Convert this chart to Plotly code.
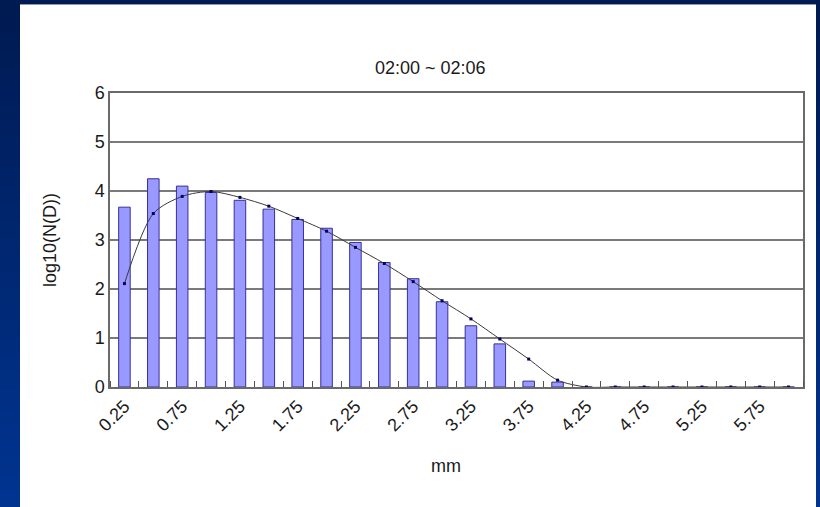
import plotly.graph_objects as go

# Drop-size bins (mm) and the measured / fitted log10 number density
diameters = [0.25, 0.50, 0.75, 1.00, 1.25, 1.50, 1.75, 2.00, 2.25, 2.50, 2.75, 3.00,
             3.25, 3.50, 3.75, 4.00, 4.25, 4.50, 4.75, 5.00, 5.25, 5.50, 5.75, 6.00]
measured = [3.67, 4.25, 4.10, 3.97, 3.81, 3.63, 3.42, 3.24, 2.95, 2.54, 2.21, 1.74,
            1.25, 0.88, 0.12, 0.10, 0, 0, 0, 0, 0, 0, 0, 0]
fitted = [2.11, 3.54, 3.89, 3.99, 3.87, 3.69, 3.44, 3.18, 2.85, 2.52, 2.15, 1.76,
          1.39, 0.98, 0.57, 0.14, 0, 0, 0, 0, 0, 0, 0, 0]
tick_labels = ["0.25", "0.75", "1.25", "1.75", "2.25", "2.75", "3.25", "3.75",
               "4.25", "4.75", "5.25", "5.75"]
tick_positions = [0.25, 0.75, 1.25, 1.75, 2.25, 2.75, 3.25, 3.75, 4.25, 4.75, 5.25, 5.75]

W, H = 820, 507
FONT = "Liberation Sans Narrow, Arial Narrow, Liberation Sans, Arial, sans-serif"
TXT = "#1a1a1a"

fig = go.Figure()

fig.add_trace(go.Bar(
    x=diameters, y=measured, width=0.10,
    marker=dict(color="#9999FF", line=dict(color="#333399", width=1)),
    showlegend=False, hoverinfo="x+y",
))
fig.add_trace(go.Scatter(
    x=diameters, y=fitted, mode="lines+markers",
    line=dict(color="#3a3a3a", width=1, shape="spline", smoothing=0.8),
    marker=dict(color="#000060", size=3, symbol="square"),
    showlegend=False, hoverinfo="x+y",
))

# plot-area margins; helpers turn pixel positions into paper coordinates
ml, mr, mt, mb = 110, 17, 93, 120
pw, ph = W - ml - mr, H - mt - mb
def px_x(x):
    return (x - ml) / pw
def px_y(y):
    return (H - mb - y) / ph

# slide background: vertical navy gradient, then the white chart area
shapes = []
top_c = (0x00, 0x1A, 0x52)
bot_c = (0x00, 0x34, 0x90)
n = 30
for i in range(n):
    t = i / (n - 1)
    c = tuple(int(round(top_c[k] + (bot_c[k] - top_c[k]) * t)) for k in range(3))
    shapes.append(dict(type="rect", xref="paper", yref="paper",
                       x0=px_x(-5), x1=px_x(W + 5),
                       y0=px_y(H * (i + 1) / n + 1), y1=px_y(H * i / n - (2 if i == 0 else 0)),
                       fillcolor="rgb(%d,%d,%d)" % c, line=dict(width=0), layer="below"))

shapes.append(dict(type="rect", xref="paper", yref="paper",
                   x0=px_x(20), x1=px_x(816), y0=px_y(H + 5), y1=px_y(4),
                   fillcolor="white", line=dict(width=0), layer="below"))
shapes.append(dict(type="line", xref="paper", yref="paper",
                   x0=px_x(20), x1=px_x(816), y0=px_y(4.5), y1=px_y(4.5),
                   line=dict(color="#8a9ab8", width=1.2), layer="below"))

fig.update_layout(
    width=W, height=H,
    margin=dict(l=ml, r=mr, t=mt, b=mb),
    paper_bgcolor="#001A52",
    plot_bgcolor="#C0C0C0",
    font=dict(family=FONT, color=TXT, size=18),
    shapes=shapes,
    annotations=[
        dict(text="02:00 ~ 02:06", xref="paper", yref="paper",
             x=px_x(430), y=px_y(68), xanchor="center", yanchor="middle",
             showarrow=False, font=dict(size=18, family=FONT, color=TXT)),
        dict(text="mm", xref="paper", yref="paper",
             x=px_x(446), y=px_y(466), xanchor="center", yanchor="middle",
             showarrow=False, font=dict(size=18, family=FONT, color=TXT)),
        dict(text="log10(N(D))", xref="paper", yref="paper",
             x=px_x(50), y=px_y(240), xanchor="center", yanchor="middle",
             showarrow=False, textangle=-90,
             font=dict(size=18, family=FONT, color=TXT)),
    ],
)

fig.update_xaxes(
    range=[0.125, 6.125],
    tickmode="array", tickvals=tick_positions, ticktext=tick_labels,
    tickangle=-45, ticks="", showgrid=False, zeroline=False,
    showline=True, linecolor="#6a6a6a", linewidth=1.5, mirror=True,
    tickfont=dict(size=18, family=FONT, color=TXT),
    minor=dict(tick0=0.125, dtick=0.25, ticks="inside", ticklen=6,
               tickcolor="#555555", tickwidth=1, showgrid=False),
)
fig.update_yaxes(
    range=[0, 6], dtick=1, ticks="",
    showgrid=True, gridcolor="#7a7a7a", gridwidth=1.5, zeroline=False,
    showline=True, linecolor="#6a6a6a", linewidth=1.5, mirror=True,
    tickfont=dict(size=18, family=FONT, color=TXT),
)

fig.write_html("out.html")
